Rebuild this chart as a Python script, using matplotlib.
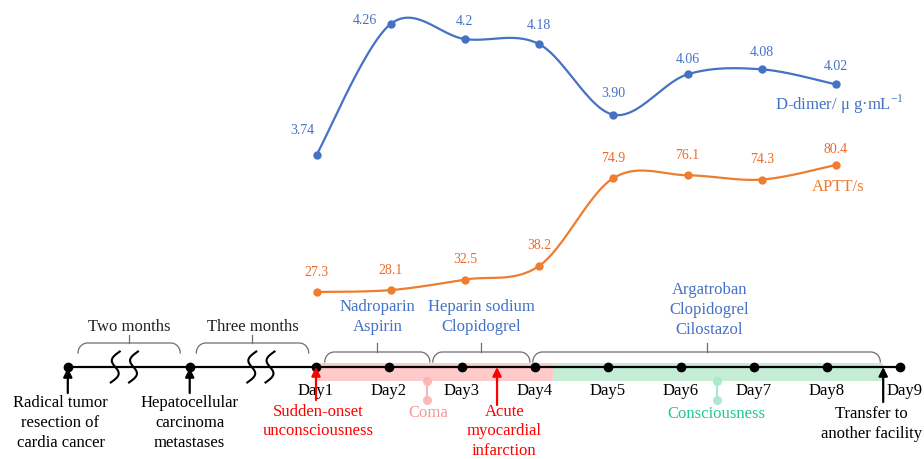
import numpy as np
import matplotlib
matplotlib.use('Agg')
import matplotlib.pyplot as plt

plt.rcParams['font.family'] = ['Liberation Serif', 'DejaVu Serif']
plt.rcParams['mathtext.fontset'] = 'custom'
plt.rcParams['mathtext.rm'] = 'Liberation Serif'

# ---------------- data ----------------
ddimer = [3.74, 4.26, 4.2, 4.18, 3.90, 4.06, 4.08, 4.02]
ddimer_labels = ['3.74', '4.26', '4.2', '4.18', '3.90', '4.06', '4.08', '4.02']
aptt = [27.3, 28.1, 32.5, 38.2, 74.9, 76.1, 74.3, 80.4]
aptt_labels = ['27.3', '28.1', '32.5', '38.2', '74.9', '76.1', '74.3', '80.4']

days = [1, 2, 3, 4, 5, 6, 7, 8, 9]
day_labels = ['Day1', 'Day2', 'Day3', 'Day4', 'Day5', 'Day6', 'Day7', 'Day8', 'Day9']

pre_events = ['Radical tumor\nresection of\ncardia cancer',
              'Hepatocellular\ncarcinoma\nmetastases']
pre_pos = [-2.40, -0.73]
intervals = ['Two months', 'Three months']

drugs = ['Nadroparin\nAspirin', 'Heparin sodium\nClopidogrel',
         'Argatroban\nClopidogrel\nCilostazol']
drug_spans = [(1.12, 2.56), (2.60, 3.93), (3.97, 8.73)]

events_red = ['Sudden-onset\nunconsciousness', 'Acute\nmyocardial\ninfarction']
events_red_day = [1.0, 3.48]
coma_day = 2.52
conscious_day = 6.49
transfer_day = 8.77
phase_change_day = 4.25

BLUE = '#4472C4'
ORANGE = '#ED7D31'
ORANGE_TXT = '#EE6A2A'
RED = '#FF0000'

W, H = 924, 459
fig = plt.figure(figsize=(W / 100, H / 100), dpi=100)

# timeline axes: x in day units, y in layout rows (inverted)
ax_t = fig.add_axes([0, 0, 1, 1])
ax_t.set_xlim((0 - 316) / 73 + 1, (W - 316) / 73 + 1)
ax_t.set_ylim(H, 0)
ax_t.axis('off')

# line-chart axes
ax_d = fig.add_axes([0, 0, 1, 1])
ax_a = fig.add_axes([0, 0, 1, 1])
for ax in (ax_d, ax_a):
    ax.set_xlim(-316.5 / 74.2, (W - 316.5) / 74.2)
    ax.axis('off')
    ax.patch.set_alpha(0)
ax_d.set_ylim(3.74 - (H - 155) / 252, 3.74 + 155 / 252)
ax_a.set_ylim(27.3 - (H - 292) / 2.392, 27.3 + 292 / 2.392)


def smooth(xs, ys, n=30):
    P = np.column_stack([xs, ys]).astype(float)
    Pp = np.vstack([P[0], P, P[-1]])
    out = []
    for i in range(1, len(Pp) - 2):
        p0, p1, p2, p3 = Pp[i - 1], Pp[i], Pp[i + 1], Pp[i + 2]
        b1 = p1 + (p2 - p0) / 6
        b2 = p2 - (p3 - p1) / 6
        t = np.linspace(0, 1, n)[:, None]
        seg = ((1 - t) ** 3) * p1 + 3 * ((1 - t) ** 2) * t * b1 + 3 * (1 - t) * t ** 2 * b2 + t ** 3 * p2
        out.append(seg if i == 1 else seg[1:])
    c = np.vstack(out)
    return c[:, 0], c[:, 1]


idx = np.arange(len(ddimer))
ax_d.plot(*smooth(idx, ddimer), color=BLUE, lw=1.6)
ax_d.plot(idx, ddimer, 'o', color=BLUE, ms=5)
d_off = [(-14, 25), (-26, 3), (0, 18), (0, 19), (0, 21), (0, 15), (0, 17), (0, 18)]
for i, (v, lab) in enumerate(zip(ddimer, ddimer_labels)):
    ax_d.annotate(lab, (i, v), xytext=d_off[i], textcoords='offset pixels',
                  ha='center', va='center', color=BLUE, fontsize=10)
ax_d.annotate(r'D-dimer/ μ g·mL$^{\mathrm{-1}}$', (7, ddimer[-1]), xytext=(-61, -20),
              textcoords='offset pixels', ha='left', va='center', color=BLUE, fontsize=12)

ax_a.plot(*smooth(idx, aptt), color=ORANGE, lw=1.6)
ax_a.plot(idx, aptt, 'o', color=ORANGE, ms=5)
for i, (v, lab) in enumerate(zip(aptt, aptt_labels)):
    ax_a.annotate(lab, (i, v), xytext=(0, 20 if i < 7 else 15), textcoords='offset pixels',
                  ha='center', va='center', color=ORANGE_TXT, fontsize=10)
ax_a.annotate('APTT/s', (7, aptt[-1]), xytext=(2, -22), textcoords='offset pixels',
              ha='center', va='center', color=ORANGE, fontsize=12)

# ---------------- timeline ----------------
YL = 367
ax_t.fill_between([days[0], phase_change_day], 363, 381, color='#FFCACA', lw=0, zorder=1)
ax_t.fill_between([phase_change_day, transfer_day], 363, 381, color='#C5EDD6', lw=0, zorder=1)
ax_t.plot([pre_pos[0], days[-1]], [YL, YL], color='black', lw=1.6, zorder=3)
ax_t.plot(pre_pos + days, [YL] * (len(pre_pos) + len(days)), 'o', color='black', ms=6, zorder=4)

# break marks (S shapes)
for cx in (-1.75, -1.50, 0.12, 0.37):
    s = np.linspace(-1, 1, 80)
    xs = cx + (-4.5 * s + 5.5 * np.sin(np.pi * s)) / 73
    ys = YL + 15.5 * s
    ax_t.plot(xs, ys, color='black', lw=1.5, zorder=3)


def brace(x0, x1, ytop, yend, tick, rx=0.13):
    t = np.linspace(0, np.pi / 2, 20)
    xl = x0 + rx - rx * np.cos(t)
    yl = yend - (yend - ytop) * np.sin(t)
    xr = x1 - rx + rx * np.cos(t[::-1])
    yr = yend - (yend - ytop) * np.sin(t[::-1])
    ax_t.plot(np.r_[xl, xr], np.r_[yl, yr], color='#6E6E6E', lw=0.9, zorder=2)
    xc = (x0 + x1) / 2
    ax_t.plot([xc, xc], [ytop, ytop - tick], color='#6E6E6E', lw=0.9, zorder=2)
    return xc


interval_spans = [(-2.26, -0.86), (-0.64, 0.90)]
for lab, (a, b) in zip(intervals, interval_spans):
    xc = brace(a, b, 343, 353, 8)
    ax_t.text(xc, 327, lab, ha='center', va='center', fontsize=12, color='#222222')

drug_tops = [307, 307, 290]
for lab, (a, b), yt in zip(drugs, drug_spans, drug_tops):
    xc = brace(a, b, 352, 362, 9)
    lines = lab.split('\n')
    for k, ln in enumerate(lines):
        ax_t.text(xc + (0.04 if len(lines) == 3 else 0), yt + 20 * k, ln,
                  ha='center', va='center', fontsize=12, color=BLUE)

for d, lab in zip(days, day_labels):
    if lab == 'Day9':
        ax_t.text(d - 0.18, 391, lab, ha='left', va='center', fontsize=12)
    else:
        ax_t.text(d, 391, lab, ha='center', va='center', fontsize=12)

arrow_kw = dict(arrowstyle='-|>', mutation_scale=13, lw=1.6, shrinkA=0, shrinkB=0)
pre_text_dx = [-0.1, 0.0]
for p, lab, dx in zip(pre_pos, pre_events, pre_text_dx):
    ax_t.annotate('', xy=(p, 368), xytext=(p, 393), arrowprops=dict(color='black', **arrow_kw), zorder=5)
    for k, ln in enumerate(lab.split('\n')):
        ax_t.text(p + dx, 403 + 20 * k, ln, ha='center', va='center', fontsize=12)

red_tails = [400, 405]
red_text_x = [1.03, 3.58]
for d, lab, tail, tx in zip(events_red_day, events_red, red_tails, red_text_x):
    ax_t.annotate('', xy=(d, 367), xytext=(d, tail), arrowprops=dict(color=RED, **arrow_kw), zorder=5)
    for k, ln in enumerate(lab.split('\n')):
        ax_t.text(tx, 412 + 19.3 * k, ln, ha='center', va='center', fontsize=12, color=RED)

ax_t.annotate('', xy=(transfer_day, 367), xytext=(transfer_day, 402),
              arrowprops=dict(color='black', **arrow_kw), zorder=5)
for k, ln in enumerate(['Transfer to', 'another facility']):
    ax_t.text(transfer_day - 0.16, 414 + 20 * k, ln, ha='center', va='center', fontsize=12)

# coma / consciousness markers
ax_t.plot([coma_day, coma_day], [381, 400], color='#F9B5B5', lw=1.5, zorder=2)
ax_t.plot([coma_day, coma_day], [381, 400], 'o', color='#F9B5B5', ms=5.5, alpha=0.9, zorder=2)
ax_t.text(coma_day + 0.02, 413, 'Coma', ha='center', va='center', fontsize=12, color='#F59A9A')
ax_t.plot([conscious_day, conscious_day], [381, 400], color='#A9E8CC', lw=1.5, zorder=2)
ax_t.plot([conscious_day, conscious_day], [381, 400], 'o', color='#A9E8CC', ms=5.5, alpha=0.9, zorder=2)
ax_t.text(conscious_day, 414, 'Consciousness', ha='center', va='center', fontsize=12, color='#22C98E')

fig.savefig('out.png', dpi=100)
